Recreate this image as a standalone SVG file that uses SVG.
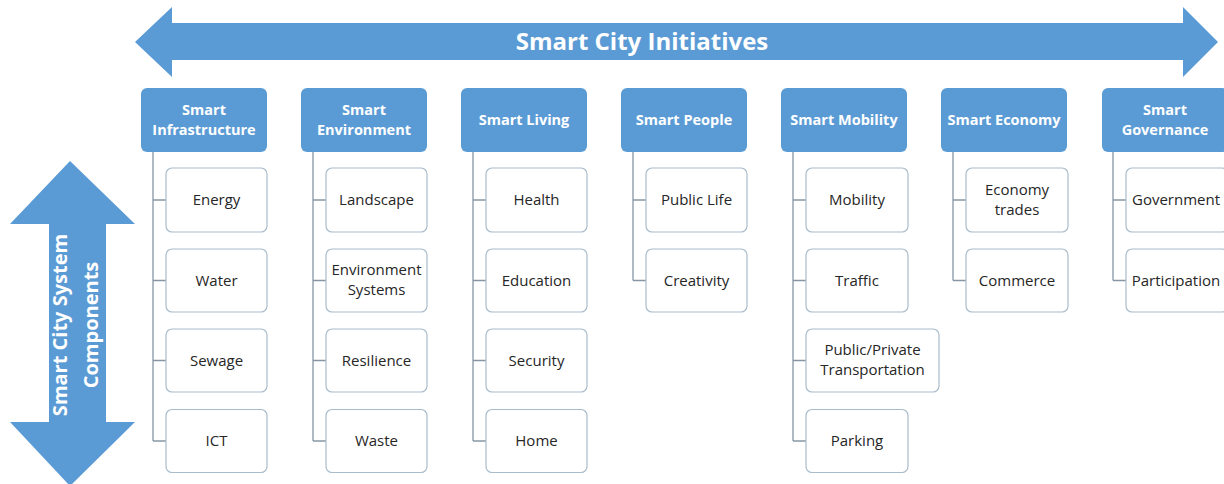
<svg xmlns="http://www.w3.org/2000/svg" width="1224" height="484" viewBox="0 0 1224 484">
<style>
.arrow{fill:#5b9bd5}
.hdr{fill:#5b9bd5}
.hdrt{fill:#ffffff;font-family:"Open Sans",Lato,sans-serif;font-weight:bold;font-size:14.5px;text-anchor:middle}
.child{fill:#ffffff;stroke:#a9bccb;stroke-width:1.2}
.ct{fill:#262626;font-family:"Open Sans",Lato,sans-serif;font-size:15px;text-anchor:middle}
.conn{fill:none;stroke:#8696a5;stroke-width:1.3}
.big{fill:#ffffff;font-family:"Open Sans",Lato,sans-serif;font-weight:bold;text-anchor:middle}
</style>
<rect width="1224" height="484" fill="#ffffff"/>
<g id="top-arrow">
<polygon class="arrow" points="135,42 172,7 172,23 1183,23 1183,7 1218,42 1183,77 1183,60 172,60 172,77"/>
<text class="big" x="642" y="50" font-size="24">Smart City Initiatives</text>
</g>
<g id="side-arrow">
<polygon class="arrow" points="70,161 135,224 106,224 106,422 135,422 70,486 10,422 49,422 49,224 10,224"/>
<text class="big" font-size="20" transform="translate(67,325) rotate(-90)">Smart City System</text>
<text class="big" font-size="20" transform="translate(98,325) rotate(-90)">Components</text>
</g>
<g id="connectors">
<path class="conn" d="M153,152 V441 M153,200 H166 M153,280.5 H166 M153,360.5 H166 M153,441 H166"/>
<path class="conn" d="M313,152 V441 M313,200 H326 M313,280.5 H326 M313,360.5 H326 M313,441 H326"/>
<path class="conn" d="M473,152 V441 M473,200 H486 M473,280.5 H486 M473,360.5 H486 M473,441 H486"/>
<path class="conn" d="M633,152 V280.5 M633,200 H646 M633,280.5 H646"/>
<path class="conn" d="M793,152 V441 M793,200 H806 M793,280.5 H806 M793,360.5 H806 M793,441 H806"/>
<path class="conn" d="M953,152 V280.5 M953,200 H966 M953,280.5 H966"/>
<path class="conn" d="M1113,152 V280.5 M1113,200 H1126 M1113,280.5 H1126"/>
</g>
<g id="smart-infrastructure">
<rect class="hdr" x="141" y="88" width="126" height="64" rx="6"/>
<text class="hdrt" x="204" y="115">Smart</text>
<text class="hdrt" x="204" y="135">Infrastructure</text>
</g>
<g id="energy"><rect class="child" x="166" y="168" width="101" height="64" rx="6"/><text class="ct" x="216.5" y="205">Energy</text></g>
<g id="water"><rect class="child" x="166" y="249" width="101" height="63" rx="6"/><text class="ct" x="216.5" y="285.5">Water</text></g>
<g id="sewage"><rect class="child" x="166" y="329" width="101" height="63" rx="6"/><text class="ct" x="216.5" y="365.5">Sewage</text></g>
<g id="ict"><rect class="child" x="166" y="409.5" width="101" height="63" rx="6"/><text class="ct" x="216.5" y="446">ICT</text></g>

<g id="smart-environment">
<rect class="hdr" x="301" y="88" width="126" height="64" rx="6"/>
<text class="hdrt" x="364" y="115">Smart</text>
<text class="hdrt" x="364" y="135">Environment</text>
</g>
<g id="landscape"><rect class="child" x="326" y="168" width="101" height="64" rx="6"/><text class="ct" x="376.5" y="205">Landscape</text></g>
<g id="environment-systems"><rect class="child" x="326" y="249" width="101" height="63" rx="6"/><text class="ct" x="376.5" y="275">Environment</text><text class="ct" x="376.5" y="295">Systems</text></g>
<g id="resilience"><rect class="child" x="326" y="329" width="101" height="63" rx="6"/><text class="ct" x="376.5" y="365.5">Resilience</text></g>
<g id="waste"><rect class="child" x="326" y="409.5" width="101" height="63" rx="6"/><text class="ct" x="376.5" y="446">Waste</text></g>

<g id="smart-living">
<rect class="hdr" x="461" y="88" width="126" height="64" rx="6"/>
<text class="hdrt" x="524" y="125">Smart Living</text>
</g>
<g id="health"><rect class="child" x="486" y="168" width="101" height="64" rx="6"/><text class="ct" x="536.5" y="205">Health</text></g>
<g id="education"><rect class="child" x="486" y="249" width="101" height="63" rx="6"/><text class="ct" x="536.5" y="285.5">Education</text></g>
<g id="security"><rect class="child" x="486" y="329" width="101" height="63" rx="6"/><text class="ct" x="536.5" y="365.5">Security</text></g>
<g id="home"><rect class="child" x="486" y="409.5" width="101" height="63" rx="6"/><text class="ct" x="536.5" y="446">Home</text></g>

<g id="smart-people">
<rect class="hdr" x="621" y="88" width="126" height="64" rx="6"/>
<text class="hdrt" x="684" y="125">Smart People</text>
</g>
<g id="public-life"><rect class="child" x="646" y="168" width="101" height="64" rx="6"/><text class="ct" x="696.5" y="205">Public Life</text></g>
<g id="creativity"><rect class="child" x="646" y="249" width="101" height="63" rx="6"/><text class="ct" x="696.5" y="285.5">Creativity</text></g>

<g id="smart-mobility">
<rect class="hdr" x="781" y="88" width="126" height="64" rx="6"/>
<text class="hdrt" x="844" y="125">Smart Mobility</text>
</g>
<g id="mobility"><rect class="child" x="806" y="168" width="102" height="64" rx="6"/><text class="ct" x="857" y="205">Mobility</text></g>
<g id="traffic"><rect class="child" x="806" y="249" width="102" height="63" rx="6"/><text class="ct" x="857" y="285.5">Traffic</text></g>
<g id="public-private-transportation"><rect class="child" x="806" y="329" width="133" height="63" rx="6"/><text class="ct" x="872.5" y="355">Public/Private</text><text class="ct" x="872.5" y="375">Transportation</text></g>
<g id="parking"><rect class="child" x="806" y="409.5" width="102" height="63" rx="6"/><text class="ct" x="857" y="446">Parking</text></g>

<g id="smart-economy">
<rect class="hdr" x="941" y="88" width="126" height="64" rx="6"/>
<text class="hdrt" x="1004" y="125">Smart Economy</text>
</g>
<g id="economy-trades"><rect class="child" x="966" y="168" width="102" height="64" rx="6"/><text class="ct" x="1017" y="195">Economy</text><text class="ct" x="1017" y="215">trades</text></g>
<g id="commerce"><rect class="child" x="966" y="249" width="102" height="63" rx="6"/><text class="ct" x="1017" y="285.5">Commerce</text></g>

<g id="smart-governance">
<rect class="hdr" x="1102" y="88" width="126" height="64" rx="6"/>
<text class="hdrt" x="1165" y="115">Smart</text>
<text class="hdrt" x="1165" y="135">Governance</text>
</g>
<g id="government"><rect class="child" x="1126" y="168" width="102" height="64" rx="6"/><text class="ct" x="1176" y="205">Government</text></g>
<g id="participation"><rect class="child" x="1126" y="249" width="102" height="63" rx="6"/><text class="ct" x="1176" y="285.5">Participation</text></g>
</svg>
